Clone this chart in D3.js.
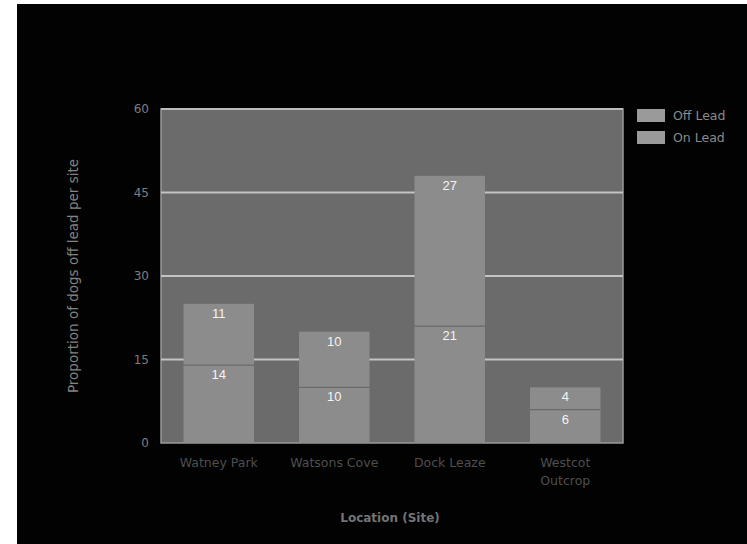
<!DOCTYPE html>
<html><head><meta charset="utf-8">
<script src="https://cdn.jsdelivr.net/npm/d3@7"></script>
<style>html,body{margin:0;padding:0;background:#fff;}svg{display:block;}</style>
</head><body>
<svg id="c" width="747" height="544"></svg>
<script>
const categories = ["Watney Park", "Watsons Cove", "Dock Leaze", "Westcot|Outcrop"];
const offLead = [11, 10, 27, 4];
const onLead = [14, 10, 21, 6];
const seriesNames = ["Off Lead", "On Lead"];
const yTicks = [0, 15, 30, 45, 60];

const svg = d3.select("#c");
const W = 747, H = 544;
const m = {left: 161, right: 124, top: 109, bottom: 101};
const pw = W - m.left - m.right, ph = H - m.top - m.bottom;

svg.append("rect").attr("x", 0).attr("y", 0).attr("width", W).attr("height", H).attr("fill", "#fff");
svg.append("rect").attr("x", 17).attr("y", 4).attr("width", W - 17).attr("height", H - 4).attr("fill", "#020202");

const x = d3.scaleBand().domain(categories).range([m.left, m.left + pw]).paddingInner(0.39).paddingOuter(0.195);
const y = d3.scaleLinear().domain([0, 60]).range([m.top + ph, m.top]);

svg.append("rect").attr("x", m.left).attr("y", m.top).attr("width", pw).attr("height", ph)
  .attr("fill", "#6b6b6b").attr("stroke", "#9a9a9a").attr("stroke-width", 1.5);

svg.append("g").selectAll("line").data(yTicks.filter(t => t > 0 && t < 60)).join("line")
  .attr("x1", m.left).attr("x2", m.left + pw)
  .attr("y1", d => y(d)).attr("y2", d => y(d))
  .attr("stroke", "#c4c4c4").attr("stroke-width", 2);
svg.append("line").attr("x1", m.left).attr("x2", m.left + pw).attr("y1", y(60)).attr("y2", y(60))
  .attr("stroke", "#bcbcbc").attr("stroke-width", 2);

const yAxis = d3.axisLeft(y).tickValues(yTicks).tickSize(0).tickPadding(12);
const ga = svg.append("g").attr("transform", `translate(${m.left},0)`).call(yAxis);
ga.select(".domain").remove();
ga.selectAll("text").attr("fill", "#7e7e7e").attr("font-family", "DejaVu Sans, sans-serif").attr("font-size", 12);

const rows = categories.map((c, i) => ({cat: c, on: onLead[i], off: offLead[i]}));
const stack = d3.stack().keys(["on", "off"])(rows);
const fills = {on: "#8c8c8c", off: "#8c8c8c"};

stack.forEach(layer => {
  const g = svg.append("g");
  g.selectAll("rect").data(layer).join("rect")
    .attr("x", d => x(d.data.cat))
    .attr("width", x.bandwidth())
    .attr("y", d => y(d[1]))
    .attr("height", d => y(d[0]) - y(d[1]))
    .attr("fill", fills[layer.key]);
  g.selectAll("text").data(layer).join("text")
    .attr("x", d => x(d.data.cat) + x.bandwidth() / 2)
    .attr("y", d => y(d[1]) + 14)
    .attr("text-anchor", "middle")
    .attr("fill", "#f4f4f4")
    .attr("font-family", "Liberation Sans, Arial, sans-serif")
    .attr("font-size", 13)
    .text(d => d.data[layer.key]);
});
svg.append("g").selectAll("line").data(stack[0]).join("line")
  .attr("x1", d => x(d.data.cat)).attr("x2", d => x(d.data.cat) + x.bandwidth())
  .attr("y1", d => y(d[1])).attr("y2", d => y(d[1]))
  .attr("stroke", "#6a6a6a").attr("stroke-width", 1.2);

const gx = svg.append("g");
categories.forEach(c => {
  const parts = c.split("|");
  parts.forEach((p, k) => {
    gx.append("text")
      .attr("x", x(c) + x.bandwidth() / 2)
      .attr("y", 467 + k * 18)
      .attr("text-anchor", "middle")
      .attr("fill", "#4e4e4e")
      .attr("font-family", "DejaVu Sans, sans-serif")
      .attr("font-size", 12.5)
      .text(p);
  });
});

svg.append("text").attr("x", 390).attr("y", 522).attr("text-anchor", "middle")
  .attr("fill", "#747474").attr("font-family", "DejaVu Sans, sans-serif").attr("font-size", 12).attr("font-weight", "bold")
  .text("Location (Site)");
svg.append("text").attr("transform", `translate(78,276) rotate(-90)`).attr("text-anchor", "middle")
  .attr("fill", "#828282").attr("font-family", "DejaVu Sans, sans-serif").attr("font-size", 13.5)
  .text("Proportion of dogs off lead per site");

const lg = svg.append("g");
seriesNames.forEach((s, i) => {
  lg.append("rect").attr("x", 637).attr("y", 109 + i * 22).attr("width", 28).attr("height", 13).attr("fill", "#9a9a9a");
  lg.append("text").attr("x", 673).attr("y", 120 + i * 22).attr("fill", "#8a8a8a")
    .attr("font-family", "DejaVu Sans, sans-serif").attr("font-size", 12.5).text(s);
});
</script>
</body></html>
